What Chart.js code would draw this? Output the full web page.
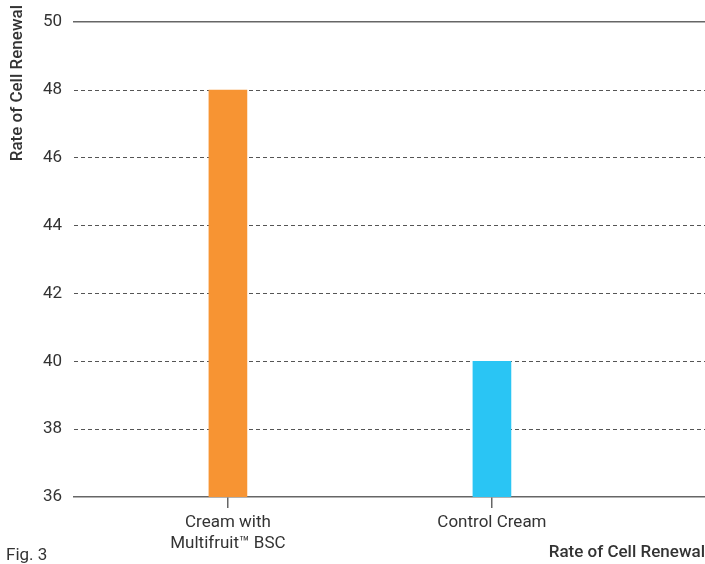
<!DOCTYPE html>
<html>
<head>
<meta charset="utf-8">
<script src="https://cdn.jsdelivr.net/npm/chart.js@4"></script>
<style>
  html, body { margin: 0; padding: 0; background: #fff; }
  #wrap { width: 705px; height: 564px; }
</style>
</head>
<body>
<div id="wrap"><canvas id="chartRenewal"></canvas></div>
<script>
const categories = [['Cream with', 'Multifruit\u2122 BSC'], 'Control Cream'];
const positions = [0, 1];
const renewal = [48, 40];
const barColors = ['#F79433', '#2AC5F4'];
const yTicks = [36, 38, 40, 42, 44, 46, 48, 50];
const axisTitle = 'Rate of Cell Renewal';
const figLabel = 'Fig. 3';

const textColor = '#333';
const fontFamily = 'Roboto, "Liberation Sans", sans-serif';

// texts that sit outside the plot box
const extraText = {
  id: 'extraText',
  afterDraw(chart) {
    const c = chart.ctx;
    c.save();
    c.fillStyle = textColor;
    c.font = '500 17px ' + fontFamily;
    c.textBaseline = 'middle';
    c.textAlign = 'right';
    c.fillText(axisTitle, chart.width, 553);
    c.textAlign = 'left';
    c.font = '17px ' + fontFamily;
    c.fillText(figLabel, 6, 556);
    c.translate(18, 5);
    c.rotate(-Math.PI / 2);
    c.textAlign = 'right';
    c.font = '500 17px ' + fontFamily;
    c.fillText(axisTitle, 0, 0);
    c.restore();
  }
};

const ctx = document.getElementById('chartRenewal').getContext('2d');
const chart = new Chart(ctx, {
  type: 'bar',
  data: {
    datasets: [{
      data: positions.map((x, i) => ({ x, y: renewal[i] })),
      backgroundColor: barColors,
      barThickness: 38
    }]
  },
  plugins: [extraText],
  options: {
    responsive: true,
    maintainAspectRatio: false,
    animation: false,
    layout: { padding: { top: 19, right: 0, left: 0, bottom: 0 } },
    plugins: {
      legend: { display: false },
      tooltip: { enabled: false }
    },
    scales: {
      x: {
        type: 'linear',
        min: -0.583,
        max: 1.807,
        offset: false,
        afterBuildTicks: (scale) => { scale.ticks = positions.map(v => ({ value: v })); },
        afterFit: (scale) => { scale.height = 67; },
        ticks: {
          color: textColor,
          font: { family: fontFamily, size: 17, lineHeight: 1.25 },
          padding: 4,
          maxRotation: 0,
          autoSkip: false,
          callback: (v) => categories[positions.indexOf(v)]
        },
        grid: { offset: false, drawOnChartArea: false, drawTicks: true, tickLength: 11, color: '#666', lineWidth: 1.5 },
        border: { display: true, color: '#666', width: 1.5 }
      },
      top: {
        type: 'linear',
        position: 'top',
        min: 0,
        max: 1,
        afterFit: (scale) => { scale.height = 0; },
        ticks: { display: false },
        grid: { display: false, drawTicks: false },
        border: { display: true, color: '#666', width: 1.5 }
      },
      y: {
        min: 36,
        max: 50,
        afterBuildTicks: (scale) => { scale.ticks = yTicks.map(v => ({ value: v })); },
        afterFit: (scale) => { scale.width = 74; },
        ticks: {
          color: textColor,
          font: { family: fontFamily, size: 17 },
          padding: 12
        },
        grid: {
          drawTicks: false,
          lineWidth: 1,
          // first and last lines are drawn solid by the axis borders
          color: (c) => (c.tick && (c.tick.value === 36 || c.tick.value === 50)) ? 'rgba(0,0,0,0)' : '#555'
        },
        border: { display: false, dash: [4, 3] }
      }
    }
  }
});
</script>
</body>
</html>
